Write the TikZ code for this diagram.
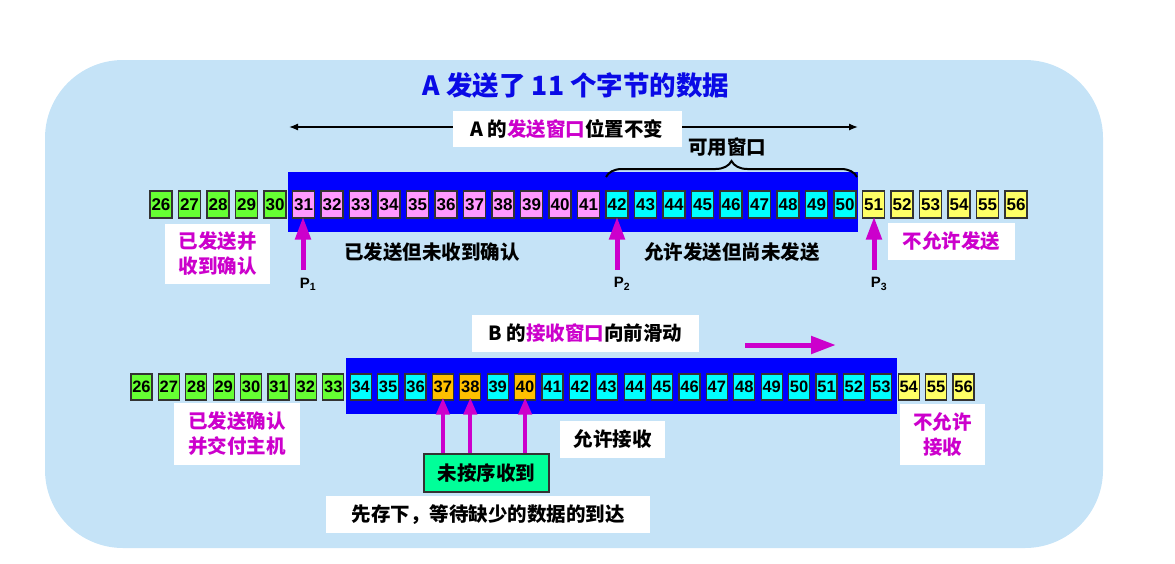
\documentclass[tikz,border=0pt]{standalone}
\usepackage{fontspec}
\setmainfont{Noto Sans CJK SC}
\newfontfamily\numf{Liberation Sans}
\usetikzlibrary{arrows.meta,decorations.pathreplacing}
\definecolor{bg}{RGB}{197,227,247}
\definecolor{cg}{RGB}{102,255,51}
\definecolor{cp}{RGB}{255,153,255}
\definecolor{cc}{RGB}{0,255,255}
\definecolor{cy}{RGB}{255,255,102}
\definecolor{co}{RGB}{255,192,0}
\definecolor{mint}{RGB}{0,255,153}
\definecolor{mag}{RGB}{204,0,204}
\definecolor{winblue}{RGB}{0,0,255}
\definecolor{titleblue}{RGB}{10,10,230}
\begin{document}
\begin{tikzpicture}[x=1pt,y=-1pt,
  cellA/.style={draw=black!80, line width=1.2pt, minimum width=22pt, minimum height=27pt, inner sep=0pt, font=\numf\bfseries\fontsize{17}{17}\selectfont},
  cellB/.style={draw=black!80, line width=1.2pt, minimum width=21pt, minimum height=26pt, inner sep=0pt, font=\numf\bfseries\fontsize{16.5}{16.5}\selectfont},
  lbl/.style={font=\bfseries\fontsize{19.5}{25}\selectfont, align=center, inner sep=0pt},
  wbox/.style={lbl, fill=white},
  parrow/.style={draw=mag, line width=5pt, -{Triangle[length=23pt,width=15pt]}},
  sarrow/.style={draw=mag, line width=4pt, -{Triangle[length=17pt,width=13pt]}},
  plbl/.style={font=\numf\bfseries\fontsize{15}{15}\selectfont, inner sep=0pt}
]
\useasboundingbox (0,0) rectangle (1175,563);
\fill[bg, rounded corners=78pt] (45,60) rectangle (1103,548);

% title
\node[font=\bfseries\fontsize{26.5}{26.5}\selectfont, text=titleblue, inner sep=0pt] (title) at (576,85) {A 发送了 11 个字节的数据};

% top window arrow
\coordinate (wl) at (289,127);
\coordinate (wr) at (858,127);
\draw[line width=1.3pt, {Latex[length=9pt,width=7pt]}-{Latex[length=9pt,width=7pt]}] (wl) -- (wr);
\node[wbox, minimum width=229pt, minimum height=36pt] (sendwin) at (567,129) {A 的\textcolor{mag}{发送窗口}位置不变};

% top blue window
\fill[winblue] (288,172) rectangle (858,232);

% available window brace
\coordinate (brL) at (606,177);
\coordinate (brR) at (857,177);
\draw[line width=2pt, decorate, decoration={brace, amplitude=16pt}] (brL) -- (brR);
\node[lbl] (avail) at (727,147) {可用窗口};

% top row
\foreach \i in {26,...,56}{
  \pgfmathsetmacro\xx{161+(\i-26)*28.5}
  \ifnum\i<31 \def\cc{cg}\else\ifnum\i<42 \def\cc{cp}\else\ifnum\i<51 \def\cc{cc}\else\def\cc{cy}\fi\fi\fi
  \node[cellA, fill=\cc] (t\i) at (\xx,204.5) {\i};
}

% top labels
\node[wbox, text=mag, minimum width=105pt, minimum height=60pt] (ackd) at (217.5,254) {已发送并\\收到确认};
\node[lbl] (sent) at (432,252) {已发送但未收到确认};
\node[lbl] (allow) at (732,252) {允许发送但尚未发送};
\node[wbox, text=mag, minimum width=127pt, minimum height=37pt] (nosend) at (951.5,241.5) {不允许发送};

% pointers
\coordinate (p1b) at (303,270);
\coordinate (p2b) at (617,270);
\coordinate (p3b) at (874,270);
\draw[parrow, shorten >=-2pt] (p1b) -- (p1b |- t31.south);
\draw[parrow, shorten >=-2pt] (p2b) -- (p2b |- t42.south);
\draw[parrow, shorten >=-2pt] (p3b) -- (p3b |- t51.south);
\node[plbl] (P1) at (308,284) {P\textsubscript{1}};
\node[plbl] (P2) at (622,284) {P\textsubscript{2}};
\node[plbl] (P3) at (879,284) {P\textsubscript{3}};

% B label and slide arrow
\node[wbox, minimum width=227pt, minimum height=37pt] (recvwin) at (585.5,333.5) {B 的\textcolor{mag}{接收窗口}向前滑动};
\coordinate (sl) at (745,345);
\coordinate (sr) at (836,345);
\draw[draw=mag, line width=5pt, -{Triangle[length=25pt,width=17pt]}] (sl) -- (sr);

% bottom blue window
\fill[winblue] (346,358) rectangle (897,414);

% bottom row
\foreach \i in {26,...,56}{
  \pgfmathsetmacro\xx{141.5+(\i-26)*27.4}
  \ifnum\i<34 \def\cc{cg}\else\ifnum\i<54 \def\cc{cc}\else\def\cc{cy}\fi\fi
  \ifnum\i=37 \def\cc{co}\fi
  \ifnum\i=38 \def\cc{co}\fi
  \ifnum\i=40 \def\cc{co}\fi
  \node[cellB, fill=\cc] (b\i) at (\xx,387) {\i};
}

% bottom labels
\node[wbox, text=mag, minimum width=126pt, minimum height=62pt] (deliv) at (237,434) {已发送确认\\并交付主机};
\node[wbox, minimum width=105pt, minimum height=37pt] (recv) at (612.5,439.5) {允许接收};
\node[wbox, text=mag, minimum width=85pt, minimum height=61pt] (norecv) at (942.5,434.5) {不允许\\接收};
\node[lbl, fill=mint, draw=black!80, line width=1.2pt, minimum width=125pt, minimum height=38pt] (ooo) at (486.5,473) {未按序收到};
\node[wbox, minimum width=324pt, minimum height=37pt] (store) at (488,514.5) {先存下，等待缺少的数据的到达};

\draw[sarrow] (b37 |- ooo.north) -- ([yshift=3pt]b37.south);
\draw[sarrow] (b38 |- ooo.north) -- ([yshift=3pt]b38.south);
\draw[sarrow] (b40 |- ooo.north) -- ([yshift=3pt]b40.south);
\end{tikzpicture}
\end{document}
